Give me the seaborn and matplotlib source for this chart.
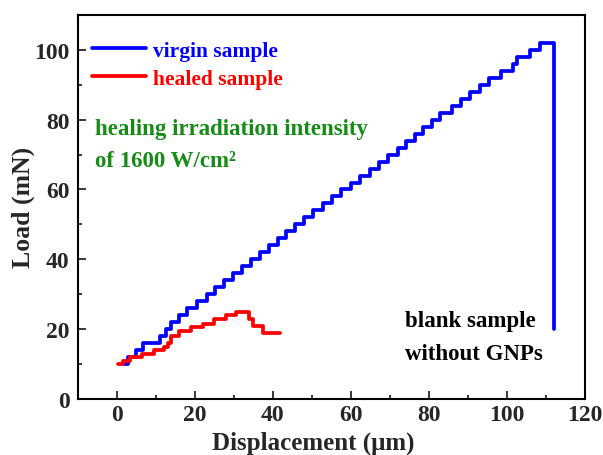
import numpy as np
import pandas as pd
import matplotlib
matplotlib.use("Agg")
import matplotlib.pyplot as plt
import seaborn as sns

# datos (desplazamiento en um, carga en mN)
virgin_disp = [1.5, 2.8, 5.0, 6.8, 11.0, 12.5, 14.0, 16.0, 18.0, 20.5,
               23.0, 25.3, 27.6, 29.9, 32.2, 34.5, 36.8, 39.0, 41.3, 43.5,
               45.8, 48.0, 50.4, 52.8, 55.2, 57.6, 60.0, 62.4, 64.8, 67.2,
               69.6, 72.0, 74.2, 76.4, 78.6, 80.7, 82.8, 86.0, 88.2, 90.5,
               93.0, 95.5, 98.5, 101.5, 102.5, 106.0, 108.5, 112.0]
virgin_load = [10, 12, 14, 16, 18, 20, 22, 24, 26, 28,
               30, 32, 34, 36, 38, 40, 42, 44, 46, 48,
               50, 52, 54, 56, 58, 60, 62, 64, 66, 68,
               70, 72, 74, 76, 78, 80, 82, 84, 86, 88,
               90, 92, 94, 96, 98, 100, 102, 20]

healed_disp = [0.3, 1.5, 3.5, 6.5, 9.5, 12.0, 13.0, 14.0, 16.0, 19.0,
               22.0, 25.0, 28.0, 30.5, 33.8, 35.0, 37.5, 41.8]
healed_load = [10, 11, 12, 13, 14, 15, 16, 18, 19.5, 20.5,
               21.5, 23, 24, 25, 23, 21, 19, 19]

x_ticks = [0, 20, 40, 60, 80, 100, 120]
y_ticks = [0, 20, 40, 60, 80, 100]

sns.set_style("ticks")
plt.rcParams["font.family"] = ["Liberation Serif", "DejaVu Serif"]
plt.rcParams["font.weight"] = "bold"
plt.rcParams["axes.labelweight"] = "bold"

df_v = pd.DataFrame({"x": virgin_disp, "y": virgin_load})
df_h = pd.DataFrame({"x": healed_disp, "y": healed_load})

fig, ax = plt.subplots(figsize=(6.03, 4.56), dpi=100)
fig.subplots_adjust(left=0.129, right=0.970, bottom=0.123, top=0.965)

sns.lineplot(data=df_v, x="x", y="y", ax=ax, color="#0000ff", lw=2.7,
             drawstyle="steps-post", sort=False, estimator=None,
             label="virgin sample")
sns.lineplot(data=df_h, x="x", y="y", ax=ax, color="#ff0000", lw=2.7,
             drawstyle="steps-post", sort=False, estimator=None,
             label="healed sample")

ax.set_xlim(-10, 120)
ax.set_ylim(0, 110)
ax.set_xticks(x_ticks)
ax.set_yticks(y_ticks)
ax.set_xticks(np.arange(-10, 121, 10), minor=True)
ax.set_yticks(np.arange(0, 111, 10), minor=True)
ax.tick_params(which="both", direction="in", top=False, right=False,
               width=1.3, labelsize=17)
ax.tick_params(which="major", length=6)
ax.tick_params(which="minor", length=3)
ax.tick_params(axis="x", pad=4)
ax.tick_params(axis="y", pad=6)
for s in ax.spines.values():
    s.set_linewidth(1.5)
    s.set_color("black")

ax.set_xlabel("Displacement (\u03bcm)", fontsize=18)
ax.set_ylabel("Load (mN)", fontsize=18.5)
ax.xaxis.set_label_coords(0.465, -0.082)
ax.yaxis.set_label_coords(-0.085, 0.5)

leg = ax.legend(loc="upper left", frameon=False,
                handlelength=2.5, handletextpad=0.3, labelspacing=0.35,
                borderaxespad=0.0, bbox_to_anchor=(0.012, 0.955),
                labelcolor="linecolor",
                prop={"weight": "bold", "size": 15.5})

ax.text(0.034, 0.705, "healing irradiation intensity", transform=ax.transAxes,
        color="#168c16", fontsize=16.5, fontweight="bold", va="center")
ax.text(0.034, 0.622, "of 1600 W/cm\u00b2", transform=ax.transAxes,
        color="#168c16", fontsize=16.5, fontweight="bold", va="center")

ax.text(0.645, 0.205, "blank sample", transform=ax.transAxes,
        color="black", fontsize=16.5, fontweight="bold", va="center")
ax.text(0.645, 0.118, "without GNPs", transform=ax.transAxes,
        color="black", fontsize=16.5, fontweight="bold", va="center")

plt.savefig("out.png", dpi=100)
